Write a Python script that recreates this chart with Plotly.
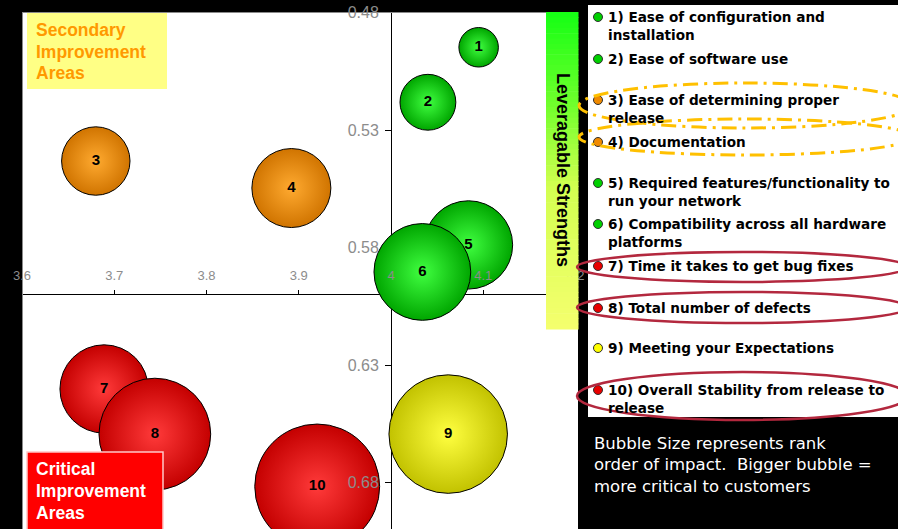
import plotly.graph_objects as go

# ---- data -------------------------------------------------------------
items = ["1", "2", "3", "4", "5", "6", "7", "8", "9", "10"]
score_x = [4.095, 4.040, 3.680, 3.892, 4.084, 4.034, 3.689, 3.744, 4.062, 3.920]
score_y = [0.4948, 0.5182, 0.5432, 0.5547, 0.5789, 0.5904, 0.6402, 0.6594, 0.6594, 0.6817]
impact_rank = [1, 2, 3, 4, 5, 6, 5, 8, 9, 10]
group = ["strength", "strength", "secondary", "secondary", "strength",
         "strength", "critical", "critical", "neutral", "critical"]
item_names = [
    "1) Ease of configuration and<br>installation",
    "2) Ease of software use",
    "3) Ease of determining proper<br>release",
    "4) Documentation",
    "5) Required features/functionality to<br>run your network",
    "6) Compatibility across all hardware<br>platforms",
    "7) Time it takes to get bug fixes",
    "8) Total number of defects",
    "9) Meeting your Expectations",
    "10) Overall Stability from release to<br>release",
]
x_ticks = [3.6, 3.7, 3.8, 3.9, 4.0, 4.1, 4.2]
x_tick_text = ["3.6", "3.7", "3.8", "3.9", "4", "4.1", "4.2"]
y_ticks = [0.48, 0.53, 0.58, 0.63, 0.68]
y_tick_text = ["0.48", "0.53", "0.58", "0.63", "0.68"]

# ---- styling ----------------------------------------------------------
W, H = 898, 529
edge = {"strength": "#00a600", "secondary": "#d07400", "critical": "#c40000", "neutral": "#c2c200"}
glow = {"strength": "#40ff40", "secondary": "#ffaa30", "critical": "#ff3a3a", "neutral": "#ffff40"}
dot = {"strength": "#00d000", "secondary": "#f08a00", "critical": "#e80000", "neutral": "#ffff00"}

def px(x):
    return x / W

def py(y):
    return 1 - y / H

X0, X1, YT = 22, 578, 12.5
x_range = [3.6, 3.6 + (X1 - X0) / 922.5]
y_range = [0.48 + (H - YT) / 2350, 0.48]
axis_x_pos = py(294)
axis_y_pos = px(391)

fig = go.Figure()

fig.add_trace(go.Scatter(
    x=score_x, y=score_y, mode="markers",
    marker=dict(
        size=impact_rank, sizemode="area", sizeref=2 / 39.5 ** 2,
        color=[edge[g] for g in group],
        gradient=dict(type="radial", color=[glow[g] for g in group]),
        line=dict(color="black", width=1), opacity=1,
    ),
    hoverinfo="skip", showlegend=False,
))

# numbers on top of the bubbles, on an overlay axis pair so that the
# tick labels stay above the bubbles while the axis lines stay below
fig.add_trace(go.Scatter(
    x=score_x, y=score_y, mode="text", text=items,
    textposition="middle center",
    textfont=dict(family="Liberation Sans", size=15, color="black", weight="bold"),
    xaxis="x2", yaxis="y2", hoverinfo="skip", showlegend=False,
))

common_x = dict(range=x_range, tickvals=x_ticks, ticktext=x_tick_text,
                showgrid=False, zeroline=False, anchor="free", automargin=False,
                position=axis_x_pos, side="top", ticks="outside", ticklen=4)
common_y = dict(range=y_range, tickvals=y_ticks, ticktext=y_tick_text,
                showgrid=False, zeroline=False, anchor="free", automargin=False,
                position=axis_y_pos, ticks="outside", ticklen=6)

fig.update_layout(
    width=W, height=H,
    margin=dict(l=0, r=0, t=0, b=0, autoexpand=False),
    paper_bgcolor="black", plot_bgcolor="white",
    xaxis=dict(domain=[px(X0), px(X1)], showline=True, linecolor="black",
               linewidth=1, tickcolor="black", showticklabels=False,
               layer="below traces", **common_x),
    yaxis=dict(domain=[0, py(YT)], showline=True, linecolor="black",
               linewidth=1, tickcolor="black", showticklabels=False,
               layer="below traces", **common_y),
    xaxis2=dict(overlaying="x", showline=False, tickcolor="rgba(0,0,0,0)",
                tickfont=dict(family="Liberation Sans", size=13, color="#8c8c8c"),
                ticklabelstandoff=5, layer="above traces", **common_x),
    yaxis2=dict(overlaying="y", showline=False, tickcolor="rgba(0,0,0,0)",
                tickfont=dict(family="Liberation Sans", size=16, color="#8c8c8c"),
                ticklabelstandoff=3, layer="above traces", **common_y),
)

shapes = []
annotations = []

def rect(x0, y0, x1, y1, fill, line_color=None, line_width=0):
    shapes.append(dict(type="rect", xref="paper", yref="paper",
                       x0=px(x0), x1=px(x1), y0=py(y1), y1=py(y0),
                       fillcolor=fill, layer="above",
                       line=dict(color=line_color or fill, width=line_width)))

def text(x, y, s, size, color, family="Liberation Sans", bold=True,
         xanchor="left", yanchor="middle", angle=0):
    annotations.append(dict(x=px(x), y=py(y), xref="paper", yref="paper",
                            text=s, showarrow=False, xanchor=xanchor,
                            yanchor=yanchor, textangle=angle, align="left",
                            font=dict(family=family, size=size, color=color,
                                      weight="bold" if bold else "normal")))

# plot-area frame (left and top)
shapes.append(dict(type="line", xref="paper", yref="paper", x0=px(22.5), x1=px(22.5),
                   y0=0, y1=py(12.5), line=dict(color="#8a8a8a", width=1), layer="above"))
shapes.append(dict(type="line", xref="paper", yref="paper", x0=px(22), x1=px(546),
                   y0=py(12.5), y1=py(12.5), line=dict(color="#8a8a8a", width=1), layer="above"))

# quadrant captions
rect(27, 13, 167, 89, "#ffff85")
for s, yy in zip(["Secondary", "Improvement", "Areas"], [30, 52, 73]):
    text(34, yy, s, 17.5, "#ff9900")
rect(27, 452, 163, 540, "#ff0000", "#ffc8c8", 1.5)
for s, yy in zip(["Critical", "Improvement", "Areas"], [469, 491, 513]):
    text(34, yy, s, 17.5, "white")

# green-to-yellow strip
stops = [(0.0, (20, 255, 20)), (0.3, (115, 255, 45)), (0.55, (210, 255, 80)), (1.0, (245, 255, 110))]
n = 60
top, bot = 12, 329
for i in range(n):
    t = (i + 0.5) / n
    for (t0, c0), (t1, c1) in zip(stops[:-1], stops[1:]):
        if t0 <= t <= t1:
            f = (t - t0) / (t1 - t0)
            c = tuple(round(a + (b - a) * f) for a, b in zip(c0, c1))
            break
    y0 = top + (bot - top) * i / n
    y1 = top + (bot - top) * (i + 1) / n + 0.6
    rect(546, y0, 578.5, y1, "rgb(%d,%d,%d)" % c)
text(563, 170, "Leveragable Strengths", 18, "black", xanchor="center", angle=90)

# item list panel
rect(588, 5, 900, 417, "white")
row_y = [17, 59, 100, 142, 183, 224, 266, 308, 348, 390]
for name, g, yy in zip(item_names, group, row_y):
    lines = name.count("<br>") + 1
    shapes.append(dict(type="circle", xref="paper", yref="paper",
                       x0=px(593.5), x1=px(602.5), y0=py(yy + 4.5), y1=py(yy - 4.5),
                       fillcolor=dot[g], line=dict(color="#303030", width=1), layer="above"))
    text(606, yy + (lines - 1) * 9, name, 13.6, "black", family="DejaVu Sans")

# highlight rings
for y0, y1 in [(83, 128), (119, 155)]:
    shapes.append(dict(type="circle", xref="paper", yref="paper",
                       x0=px(579), x1=px(912), y0=py(y1), y1=py(y0),
                       line=dict(color="#ffc000", width=3, dash="15px,6px,3px,6px"),
                       layer="above"))
for y0, y1 in [(252, 282), (292, 323), (372, 420)]:
    shapes.append(dict(type="circle", xref="paper", yref="paper",
                       x0=px(577), x1=px(908), y0=py(y1), y1=py(y0),
                       line=dict(color="#b3283e", width=2.5), layer="above"))

text(592, 432, "Bubble Size represents rank<br>order of impact.  Bigger bubble =<br>more critical to customers",
     16.5, "white", family="DejaVu Sans", bold=False, yanchor="top")

fig.update_layout(shapes=shapes, annotations=annotations)
fig.write_html("out.html")
